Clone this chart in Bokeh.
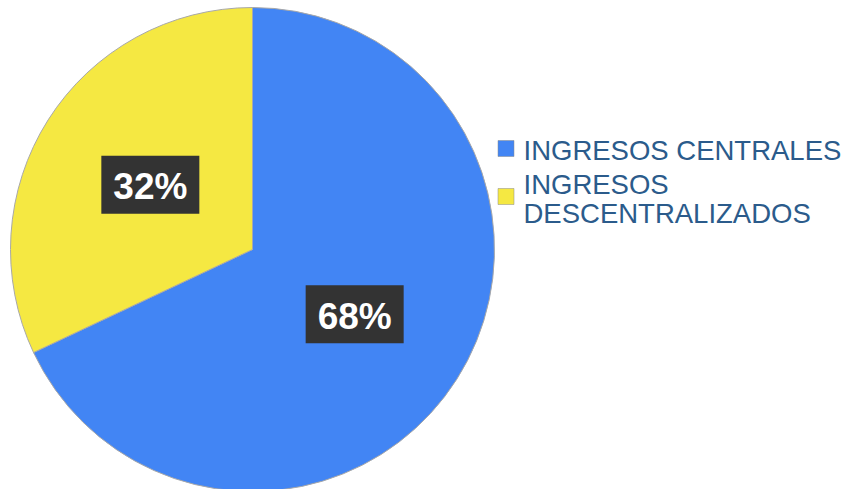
import math
from bokeh.plotting import figure
from bokeh.models import ColumnDataSource, Range1d
from bokeh.embed import file_html
from bokeh.resources import INLINE
from bokeh.core.properties import value

# ---- data ----
categories = ["INGRESOS CENTRALES", "INGRESOS DESCENTRALIZADOS"]
legend_lines = [["INGRESOS CENTRALES"], ["INGRESOS", "DESCENTRALIZADOS"]]
shares = [68, 32]
colors = ["#4285F4", "#F5E842"]

W, H = 851, 489
p = figure(width=W, height=H, output_backend="svg", toolbar_location=None,
           x_range=Range1d(0, W), y_range=Range1d(0, H),
           min_border=0, outline_line_color=None)
p.axis.visible = False
p.grid.visible = False
p.background_fill_color = "white"
p.border_fill_color = "white"

cx, cy, R = 252, H - 249, 242

total = sum(shares)
starts, ends, mids = [], [], []
a = math.pi / 2
for s in shares:
    sweep = 2 * math.pi * s / total
    starts.append(a)
    ends.append(a - sweep)
    mids.append(a - sweep / 2)
    a -= sweep

src = ColumnDataSource(dict(start=starts, end=ends, color=colors,
                            x=[cx] * len(shares), y=[cy] * len(shares)))
p.wedge(x="x", y="y", radius=R, start_angle="start", end_angle="end",
        direction="clock", fill_color="color", line_color="#a8a8a8",
        line_width=1, source=src)

# percentage labels
lx = [cx + 0.5 * R * math.cos(m) for m in mids]
ly = [cy + 0.5 * R * math.sin(m) for m in mids]
labels = [f"{s}%" for s in shares]
lsrc = ColumnDataSource(dict(x=lx, y=ly, text=labels))
p.rect(x="x", y="y", width=98, height=58, width_units="screen",
       height_units="screen", fill_color="#333333", line_color=None,
       source=lsrc)
p.text(x="x", y="y", text="text", text_font=value("Liberation Sans"),
       text_font_style="bold", text_font_size="37px", text_color="white",
       text_align="center", text_baseline="middle", y_offset=2, source=lsrc)

# legend
leg_x = 498
sq_y = [H - 148, H - 196]
for i, (lines, col) in enumerate(zip(legend_lines, colors)):
    p.rect(x=[leg_x + 7.5], y=[sq_y[i]], width=16, height=16,
           width_units="screen", height_units="screen",
           fill_color=col, line_color="#8a8a8a", line_width=0.5)
    n = len(lines)
    ys = [sq_y[i] + (n - 1) * 14.5 - k * 29 for k in range(n)]
    p.text(x=[leg_x + 25] * n, y=ys, text=lines,
           text_font=value("Liberation Sans"), text_font_size="27.5px",
           text_color="#2b5b8b", text_align="left", text_baseline="middle",
           y_offset=2)

open("out.html", "w").write(file_html(p, INLINE))
